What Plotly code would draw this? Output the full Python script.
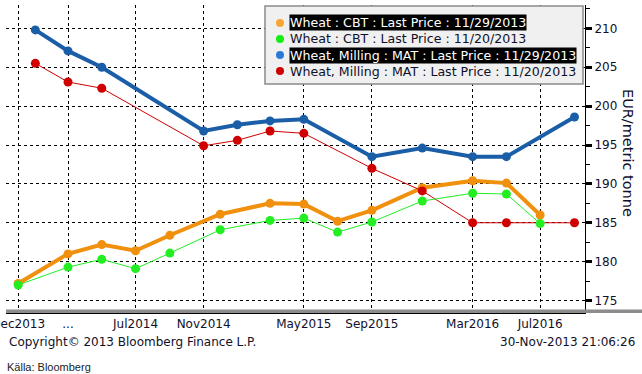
import plotly.graph_objects as go

# ---------------- data ----------------
cbt_contracts = ["2013-12-01", "2014-03-01", "2014-05-01", "2014-07-01", "2014-09-01",
                 "2014-12-01", "2015-03-01", "2015-05-01", "2015-07-01", "2015-09-01",
                 "2015-12-01", "2016-03-01", "2016-05-01", "2016-07-01"]
cbt_1129 = [177.2, 181.0, 182.2, 181.4, 183.4, 186.1, 187.5, 187.4, 185.2, 186.6,
            189.5, 190.4, 190.1, 186.0]
cbt_1120 = [177.0, 179.3, 180.3, 179.1, 181.1, 184.1, 185.3, 185.6, 183.8, 185.1,
            187.8, 188.8, 188.7, 184.9]

mat_contracts = ["2014-01-01", "2014-03-01", "2014-05-01", "2014-11-01", "2015-01-01",
                 "2015-03-01", "2015-05-01", "2015-09-01", "2015-12-01", "2016-03-01",
                 "2016-05-01", "2016-09-01"]
mat_1129 = [209.8, 207.1, 205.0, 196.8, 197.6, 198.1, 198.3, 193.5, 194.6, 193.5,
            193.5, 198.6]
mat_1120 = [205.5, 203.1, 202.3, 194.9, 195.6, 196.8, 196.5, 192.0, 189.1, 185.0,
            185.0, 185.0]

x_tickvals = ["2013-12-01", "2014-03-01", "2014-07-01", "2014-11-01", "2015-05-01",
              "2015-09-01", "2016-03-01", "2016-07-01"]
x_ticktext = ["Dec2013", "...", "Jul2014", "Nov2014", "May2015", "Sep2015",
              "Mar2016", "Jul2016"]
y_tickvals = [175, 180, 185, 190, 195, 200, 205, 210]

series_names = ["Wheat : CBT : Last Price : 11/29/2013",
                "Wheat : CBT : Last Price : 11/20/2013",
                "Wheat, Milling : MAT : Last Price : 11/29/2013",
                "Wheat, Milling : MAT : Last Price : 11/20/2013"]

# ---------------- styles ----------------
ORANGE = "#F0900C"
GREEN = "#22EE22"
BLUE = "#1B5EA8"
RED = "#D00000"
LEG_COLORS = ["#F7A535", "#11EE11", "#2A7AD8", "#D00000"]
FONT = "DejaVu Sans"
TXT = "#10102A"

W, H = 642, 374
L, R, T, B = 6, 585, 5, 313  # plot area in pixels


def px(x):
    return (x - L) / (R - L)


def py(y):
    return (B - y) / (B - T)


fig = go.Figure()
fig.add_trace(go.Scatter(x=cbt_contracts, y=cbt_1129, mode="lines+markers",
                         line=dict(color=ORANGE, width=4), marker=dict(size=9, color=ORANGE),
                         name=series_names[0]))
fig.add_trace(go.Scatter(x=mat_contracts, y=mat_1129, mode="lines+markers",
                         line=dict(color=BLUE, width=4), marker=dict(size=9, color=BLUE),
                         name=series_names[2]))
fig.add_trace(go.Scatter(x=mat_contracts, y=mat_1120, mode="lines+markers",
                         line=dict(color=RED, width=1), marker=dict(size=9, color=RED),
                         name=series_names[3]))
fig.add_trace(go.Scatter(x=cbt_contracts, y=cbt_1120, mode="lines+markers",
                         line=dict(color=GREEN, width=1), marker=dict(size=9, color=GREEN),
                         name=series_names[1]))

shapes = []
annotations = []

# grey bar under the plot
shapes.append(dict(type="rect", xref="paper", yref="paper", x0=0, x1=px(W), y0=py(313),
                   y1=py(309.5), fillcolor="#8C8C8C", line=dict(width=0), layer="above"))

# legend box
shapes.append(dict(type="rect", xref="paper", yref="paper", x0=px(265), x1=px(583),
                   y0=py(84), y1=py(6), fillcolor="#F0F0F0",
                   line=dict(color="#8A8A8A", width=1.5), layer="above"))
row_y = [23, 39, 55, 71]
for i, (name, c) in enumerate(zip(series_names, LEG_COLORS)):
    shapes.append(dict(type="circle", xref="paper", yref="paper",
                       x0=px(276), x1=px(284), y0=py(row_y[i] + 4), y1=py(row_y[i] - 4),
                       fillcolor=c, line=dict(width=0), layer="above"))
    hl = i in (0, 2)
    annotations.append(dict(x=px(289), y=py(row_y[i]), xref="paper", yref="paper",
                            xanchor="left", yanchor="middle", showarrow=False, text=name,
                            font=dict(family=FONT, size=12.6, color="white" if hl else TXT),
                            bgcolor="black" if hl else "rgba(0,0,0,0)", borderpad=0))

# axis title (reads top to bottom)
annotations.append(dict(x=px(628), y=py(153), xref="paper", yref="paper", showarrow=False,
                        xanchor="center", yanchor="middle",
                        text="EUR/metric tonne", textangle=90,
                        font=dict(family=FONT, size=14.5, color=TXT)))
# footer
annotations.append(dict(x=px(7), y=py(342), xref="paper", yref="paper", showarrow=False,
                        xanchor="left", yanchor="middle",
                        text="Copyright\u00a9 2013 Bloomberg Finance L.P.",
                        font=dict(family=FONT, size=12, color=TXT)))
annotations.append(dict(x=px(637), y=py(342), xref="paper", yref="paper", showarrow=False,
                        xanchor="right", yanchor="middle", text="30-Nov-2013 21:06:26",
                        font=dict(family=FONT, size=12, color=TXT)))
annotations.append(dict(x=px(5), y=py(367), xref="paper", yref="paper", showarrow=False,
                        xanchor="left", yanchor="middle", text="K\u00e4lla: Bloomberg",
                        font=dict(family="Liberation Sans", size=11, color="#222222")))

fig.update_layout(
    width=W, height=H,
    margin=dict(l=L, r=W - R, t=T, b=H - B, pad=0, autoexpand=False),
    paper_bgcolor="white", plot_bgcolor="white",
    showlegend=False,
    shapes=shapes, annotations=annotations,
    xaxis=dict(type="date", range=["2013-11-09", "2016-09-20"], automargin=False,
               tickmode="array", tickvals=x_tickvals, ticktext=x_ticktext,
               ticklabeloverflow="allow",
               showgrid=True, gridcolor="black", griddash="dot", gridwidth=1,
               showline=True, linecolor="black", linewidth=1,
               ticks="", zeroline=False,
               tickfont=dict(family=FONT, size=12, color=TXT)),
    yaxis=dict(side="right", range=[173.4, 213.0], automargin=False,
               tickmode="array", tickvals=y_tickvals,
               showgrid=True, gridcolor="black", griddash="dot", gridwidth=1,
               showline=True, linecolor="black", linewidth=1, zeroline=False,
               ticks="outside", ticklen=6, tickwidth=3, tickcolor="black",
               minor=dict(ticks="outside", ticklen=4, tickwidth=1, dtick=2.5,
                          tickcolor="black", showgrid=False),
               tickfont=dict(family=FONT, size=12, color=TXT)),
)

fig.write_html("out.html", config={"displayModeBar": False},
               post_script="document.body.style.margin='0px';"
               "document.body.style.padding='0px';")
